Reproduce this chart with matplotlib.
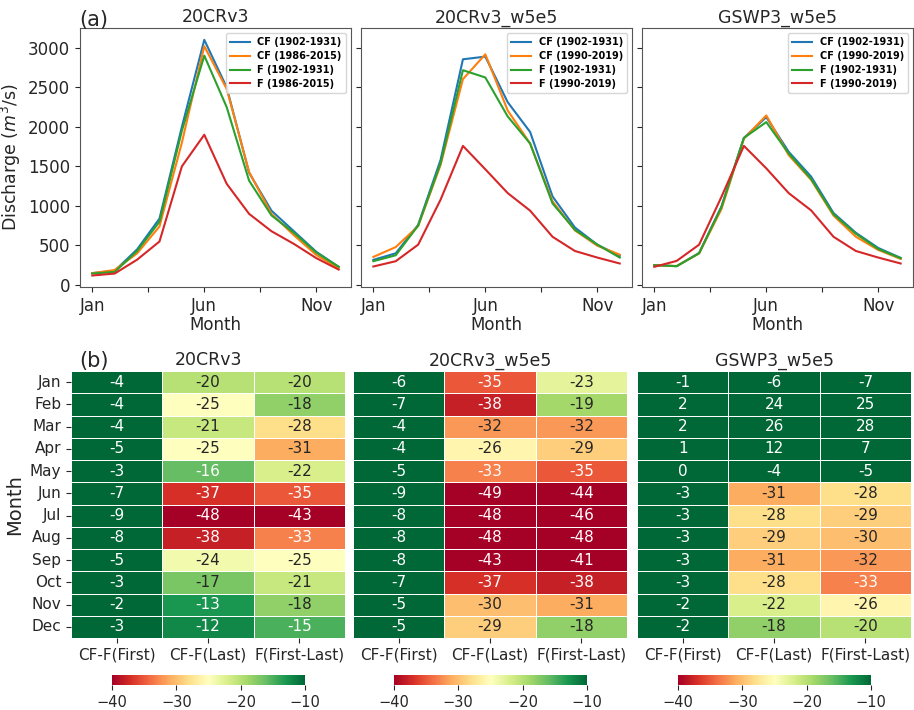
import numpy as np
import matplotlib
matplotlib.use("Agg")
import matplotlib.pyplot as plt
import seaborn as sns

months = ["Jan", "Feb", "Mar", "Apr", "May", "Jun",
          "Jul", "Aug", "Sep", "Oct", "Nov", "Dec"]
products = ["20CRv3", "20CRv3_w5e5", "GSWP3_w5e5"]
diff_cols = ["CF-F(First)", "CF-F(Last)", "F(First-Last)"]

# monthly discharge (m3/s)
cf_first = {
    "20CRv3": [150, 180, 450, 840, 2000, 3100, 2500, 1420, 940, 680, 420, 230],
    "20CRv3_w5e5": [318, 401, 760, 1580, 2854, 2888, 2311, 1935, 1120, 727, 510, 368],
    "GSWP3_w5e5": [251, 238, 405, 995, 1860, 2123, 1684, 1371, 911, 660, 468, 343],
}
cf_last = {
    "20CRv3": [150, 190, 400, 740, 1800, 3020, 2480, 1430, 900, 630, 380, 210],
    "20CRv3_w5e5": [355, 480, 744, 1517, 2603, 2917, 2206, 1789, 1058, 690, 497, 384],
    "GSWP3_w5e5": [250, 240, 400, 961, 1851, 2144, 1642, 1329, 878, 610, 443, 330],
}
f_first = {
    "20CRv3": [145, 165, 430, 800, 1950, 2900, 2250, 1320, 880, 660, 410, 230],
    "20CRv3_w5e5": [301, 376, 752, 1538, 2716, 2624, 2131, 1789, 1032, 698, 510, 347],
    "GSWP3_w5e5": [251, 238, 401, 986, 1860, 2060, 1663, 1341, 894, 648, 455, 338],
}
f_last = {
    "20CRv3": [120, 145, 320, 550, 1500, 1900, 1280, 900, 680, 520, 340, 195],
    "20CRv3_w5e5": [234, 301, 510, 1078, 1759, 1463, 1162, 940, 610, 430, 347, 272],
    "GSWP3_w5e5": [230, 305, 510, 1116, 1759, 1475, 1162, 944, 610, 430, 347, 272],
}
legend_labels = {
    "20CRv3": ["CF (1902-1931)", "CF (1986-2015)", "F (1902-1931)", "F (1986-2015)"],
    "20CRv3_w5e5": ["CF (1902-1931)", "CF (1990-2019)", "F (1902-1931)", "F (1990-2019)"],
    "GSWP3_w5e5": ["CF (1902-1931)", "CF (1990-2019)", "F (1902-1931)", "F (1990-2019)"],
}

# percentage differences, columns = diff_cols
pct = {
    "20CRv3": [
        [-4, -4, -4, -5, -3, -7, -9, -8, -5, -3, -2, -3],
        [-20, -25, -21, -25, -16, -37, -48, -38, -24, -17, -13, -12],
        [-20, -18, -28, -31, -22, -35, -43, -33, -25, -21, -18, -15],
    ],
    "20CRv3_w5e5": [
        [-6, -7, -4, -4, -5, -9, -8, -8, -8, -7, -5, -5],
        [-35, -38, -32, -26, -33, -49, -48, -48, -43, -37, -30, -29],
        [-23, -19, -32, -29, -35, -44, -46, -48, -41, -38, -31, -18],
    ],
    "GSWP3_w5e5": [
        [-1, 2, 2, 1, 0, -3, -3, -3, -3, -3, -2, -2],
        [-6, 24, 26, 12, -4, -31, -28, -29, -31, -28, -22, -18],
        [-7, 25, 28, 7, -5, -28, -29, -30, -32, -33, -26, -20],
    ],
}

colors = ["#1f77b4", "#ff7f0e", "#2ca02c", "#d62728"]
txt = "#262626"

fig = plt.figure(figsize=(9.14, 7.10), dpi=100)

line_left = [0.0875, 0.395, 0.7024]
heat_left = [0.0777, 0.3862, 0.697]
cbar_left = [0.1225, 0.431, 0.7418]

ax0 = None
for i, name in enumerate(products):
    ax = fig.add_axes([line_left[i], 0.5958, 0.2965, 0.3648], sharey=ax0)
    if ax0 is None:
        ax0 = ax
    x = np.arange(12)
    series = [cf_first[name], cf_last[name], f_first[name], f_last[name]]
    for s, c, lab in zip(series, colors, legend_labels[name]):
        ax.plot(x, s, color=c, lw=1.5, label=lab)
    ax.set_xticks([0, 2.5, 5, 7.5, 10])
    ax.set_xticklabels(["Jan", "", "Jun", "", "Nov"])
    ax.set_xlim(-0.55, 11.55)
    ax.set_ylim(-25, 3250)
    ax.set_yticks([0, 500, 1000, 1500, 2000, 2500, 3000])
    ax.tick_params(labelsize=12, colors=txt)
    for sp in ax.spines.values():
        sp.set_color("#555555")
    ax.set_title(name, fontsize=12.5, color=txt, pad=4)
    ax.set_xlabel("Month", fontsize=12, color=txt, labelpad=1)
    if i == 0:
        ax.set_ylabel("Discharge ($m^3$/s)", fontsize=12.5, color=txt)
    else:
        ax.tick_params(labelleft=False)
    ax.legend(loc="upper right", prop={"size": 7, "weight": "bold"},
              handlelength=2, borderpad=0.45, labelspacing=0.4)

fig.text(0.087, 0.963, "(a)", fontsize=15, color=txt)
fig.text(0.087, 0.483, "(b)", fontsize=15, color=txt)

for i, name in enumerate(products):
    ax = fig.add_axes([heat_left[i], 0.1014, 0.2998, 0.376])
    cax = fig.add_axes([cbar_left[i], 0.0352, 0.2112, 0.0141])
    data = np.array(pct[name]).T
    sns.heatmap(data, ax=ax, cmap="RdYlGn", vmin=-40, vmax=-10,
                annot=True, fmt="d", annot_kws={"size": 11},
                linewidths=0.6, linecolor="white",
                cbar_ax=cax, cbar_kws={"orientation": "horizontal",
                                       "ticks": [-40, -30, -20, -10]})
    ax.set_xticklabels(diff_cols, fontsize=11, color=txt)
    if i == 0:
        ax.set_yticklabels(months, rotation=0, fontsize=11, color=txt)
        ax.set_ylabel("Month", fontsize=14, color=txt)
    else:
        ax.set_yticks([])
    ax.tick_params(colors=txt)
    ax.set_title(name, fontsize=12.5, color=txt, pad=4)
    cax.tick_params(labelsize=10.5, colors=txt)

fig.savefig("out.png", dpi=100)
